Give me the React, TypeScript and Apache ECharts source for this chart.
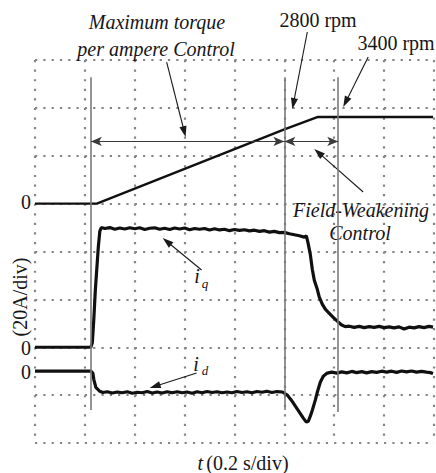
import React, { useEffect, useRef } from "react";
import * as echarts from "echarts";

// time in seconds (0.2 s/div), speed in rpm, currents in A (20 A/div)
const speedTrace: [number, number][] = [
  [0, 0], [0.248, 0], [1.0, 2920], [1.132, 3400], [1.596, 3400],
];

const iqTrace: [number, number][] = [
  [0, 0], [0.224, 0], [0.23, 2], [0.236, 12], [0.242, 24], [0.248, 33], [0.254, 42], [0.26, 48.5], [0.266, 50.0],
  [0.28, 49.6], [0.3, 50.0], [0.32, 49.3], [0.34, 49.8], [0.36, 49.4], [0.38, 49.9], [0.4, 49.5], [0.42, 49.9],
  [0.44, 49.2], [0.46, 49.7], [0.48, 49.9], [0.5, 49.3], [0.52, 49.7], [0.54, 49.2], [0.56, 49.8], [0.58, 49.4],
  [0.6, 49.8], [0.62, 49.1], [0.64, 49.6], [0.66, 49.3], [0.68, 49.6], [0.7, 49.0], [0.72, 49.5], [0.74, 49.0],
  [0.76, 49.3], [0.78, 48.7], [0.8, 49.2], [0.82, 48.8], [0.84, 49.1], [0.86, 48.6], [0.88, 48.9], [0.9, 48.4],
  [0.92, 48.7], [0.94, 48.1], [0.96, 48.4], [0.98, 47.9], [1.0, 48.0], [1.02, 47.4], [1.04, 47.0], [1.06, 46.6],
  [1.08, 46.0], [1.088, 46.5], [1.094, 44.0], [1.104, 38.8], [1.112, 32.6], [1.12, 28.0], [1.132, 24.2],
  [1.14, 20.9], [1.152, 18.0], [1.164, 15.9], [1.18, 14.2], [1.196, 12.5], [1.212, 10.9], [1.228, 9.4],
  [1.244, 8.6], [1.26, 8.8], [1.28, 8.3], [1.3, 8.7], [1.32, 8.2], [1.34, 8.6], [1.36, 8.3], [1.38, 8.7],
  [1.4, 8.2], [1.42, 8.5], [1.44, 8.1], [1.46, 8.5], [1.48, 7.6], [1.5, 8.4], [1.52, 8.1], [1.54, 8.6],
  [1.56, 8.2], [1.58, 8.7], [1.596, 8.4],
];

const idTrace: [number, number][] = [
  [0, 0], [0.224, 0], [0.232, -0.8], [0.236, -3.5], [0.244, -6.8], [0.252, -7.6], [0.26, -8.4], [0.272, -8.9],
  [0.29, -8.6], [0.31, -9.1], [0.33, -8.7], [0.35, -9.0], [0.37, -8.6], [0.39, -9.2], [0.41, -8.8], [0.43, -9.0],
  [0.45, -8.5], [0.47, -9.1], [0.49, -8.7], [0.51, -9.1], [0.53, -8.6], [0.55, -9.0], [0.57, -8.6], [0.59, -9.0],
  [0.61, -8.7], [0.63, -9.2], [0.65, -8.6], [0.67, -9.0], [0.69, -8.5], [0.71, -8.9], [0.73, -8.6], [0.75, -9.0],
  [0.77, -8.7], [0.79, -9.0], [0.81, -8.5], [0.83, -8.9], [0.85, -8.6], [0.87, -9.0], [0.89, -8.5], [0.91, -8.8],
  [0.93, -8.4], [0.95, -8.9], [0.97, -8.5], [0.992, -8.7], [1.012, -10.0], [1.028, -12.1], [1.044, -14.6],
  [1.06, -17.1], [1.076, -19.6], [1.088, -21.3], [1.096, -20.9], [1.104, -18.8], [1.112, -16.3], [1.124, -12.1],
  [1.132, -8.8], [1.144, -4.6], [1.156, -2.1], [1.172, -0.8], [1.19, -0.4], [1.21, -0.8], [1.23, -0.3],
  [1.25, -0.7], [1.27, -0.1], [1.29, -0.6], [1.31, -0.2], [1.33, -0.7], [1.35, -0.2], [1.37, -0.5], [1.39, 0.0],
  [1.41, -0.4], [1.43, 0.0], [1.45, -0.5], [1.47, 0.1], [1.49, -0.3], [1.51, 0.1], [1.53, -0.4], [1.55, -0.1],
  [1.57, -0.4], [1.585, -0.6], [1.596, -1.0],
];

// event times (s): start, MTPA -> field weakening (2800 rpm), 3400 rpm
const eventTimes = [0.224, 1.0, 1.216];

// trace offsets in divisions on screen and scales
const SPEED_ZERO = 5;
const RPM_PER_DIV = 1880;
const IQ_ZERO = 2;
const ID_ZERO = 1.5;
const AMP_PER_DIV = 20;

// annotation pointers [from, to] in (time s, screen divisions)
const pointerCoords: [number, number][][] = [
  [[0.528, 7.958], [0.604, 6.392]],
  [[1.092, 8.585], [1.032, 6.976]],
  [[1.336, 8.063], [1.236, 7.018]],
  [[1.316, 5.243], [1.12, 6.141]],
  [[0.668, 3.614], [0.512, 4.282]],
  [[0.648, 1.462], [0.46, 1.149]],
];

const TEXT = "#161616";
const FAMILY = "Liberation Serif";

export default function App() {
  const ref = useRef<HTMLDivElement>(null);
  useEffect(() => {
    if (!ref.current) return;
    const chart = echarts.init(ref.current, undefined, { renderer: "svg" });

    const speedData = speedTrace.map(([t, v]) => [t, SPEED_ZERO + v / RPM_PER_DIV]);
    const iqData = iqTrace.map(([t, v]) => [t, IQ_ZERO + v / AMP_PER_DIV]);
    const idData = idTrace.map(([t, v]) => [t, ID_ZERO + v / AMP_PER_DIV]);

    const vLines = eventTimes.map((t, i) => [
      { coord: [t, i === 2 ? 0.65 : 0.69] },
      { coord: [t, 7.64] },
    ]);
    const arrowY = 6.3;
    const doubleArrows = [
      [{ coord: [eventTimes[0], arrowY] }, { coord: [eventTimes[1], arrowY] }],
      [{ coord: [eventTimes[1], arrowY] }, { coord: [eventTimes[2], arrowY] }],
    ];

    const traceStyle = (w: number) => ({
      type: "line" as const,
      showSymbol: false,
      symbol: "none",
      silent: true,
      clip: false,
      lineStyle: { color: "#101010", width: w },
    });

    const text = (t: string, x: number, y: number, size = 20, italic = true, extra: any = {}) => ({
      type: "text",
      x,
      y,
      silent: true,
      style: {
        text: t,
        fill: TEXT,
        fontFamily: FAMILY,
        fontSize: size,
        fontStyle: italic ? "italic" : "normal",
        textAlign: "center",
        textVerticalAlign: "middle",
      },
      ...extra,
    });

    const texts: any[] = [
      text("Maximum torque", 157, 22),
      text("per ampere Control", 156, 49),
      text("2800 rpm", 318, 20, 20, false),
      text("3400 rpm", 396, 43, 20, false),
      text("Field-Weakening", 361, 210),
      text("Control", 360, 233),
      text("0", 26, 202, 20, false),
      text("0", 26, 348, 20, false),
      text("0", 26, 372, 20, false),
      text("(20A/div)", 20, 297, 20, false, { rotation: Math.PI / 2 }),
      text("i", 197, 276, 20),
      text("q", 205, 283, 13),
      text("i", 196, 364, 20),
      text("d", 205, 370, 13),
      {
        type: "text",
        x: 243,
        y: 463,
        silent: true,
        style: {
          text: "{t|t} {n|(0.2 s/div)}",
          textAlign: "center",
          textVerticalAlign: "middle",
          rich: {
            t: { fontFamily: FAMILY, fontSize: 20, fontStyle: "italic", fill: TEXT, color: TEXT },
            n: { fontFamily: FAMILY, fontSize: 20, fill: TEXT, color: TEXT },
          },
        },
      },
    ];

    chart.setOption({
      animation: false,
      backgroundColor: "#ffffff",
      grid: { left: 35, right: 2, top: 60, bottom: 30 },
      xAxis: {
        type: "value",
        min: 0,
        max: 1.6,
        interval: 0.2,
        axisLine: { show: false },
        axisTick: { show: false },
        axisLabel: { show: false },
        splitLine: { show: true, lineStyle: { color: "#858585", width: 2.2, type: [2.2, 7.375] } },
      },
      yAxis: {
        type: "value",
        min: 0,
        max: 8,
        interval: 1,
        axisLine: { show: false },
        axisTick: { show: false },
        axisLabel: { show: false },
        splitLine: { show: true, lineStyle: { color: "#858585", width: 2.2, type: [2.2, 6.11] } },
      },
      series: [
        {
          name: "guides",
          type: "line",
          data: [],
          clip: false,
          silent: true,
          markLine: {
            silent: true,
            animation: false,
            symbol: "none",
            label: { show: false },
            lineStyle: { color: "#7a7a7a", width: 1.6, type: "solid" },
            emphasis: { disabled: true },
            data: vLines,
          },
        },
        {
          name: "ranges",
          type: "line",
          data: [],
          clip: false,
          silent: true,
          markLine: {
            silent: true,
            animation: false,
            symbol: ["arrow", "arrow"],
            symbolSize: [7, 11],
            label: { show: false },
            lineStyle: { color: "#3a3a3a", width: 1.2, type: "solid" },
            emphasis: { disabled: true },
            data: doubleArrows,
          },
        },
        { name: "speed", ...traceStyle(2.4), data: speedData },
        { name: "iq", ...traceStyle(3.2), data: iqData },
        { name: "id", ...traceStyle(3.2), data: idData },
      ],
      graphic: texts,
    });

    // annotation pointer arrows, placed through the grid's own coordinate system
    const pointerEls: any[] = [];
    pointerCoords.forEach(([a, b]) => {
      const p0 = chart.convertToPixel({ gridIndex: 0 }, a) as number[];
      const p1 = chart.convertToPixel({ gridIndex: 0 }, b) as number[];
      const dx = p1[0] - p0[0];
      const dy = p1[1] - p0[1];
      const len = Math.hypot(dx, dy);
      const ux = dx / len;
      const uy = dy / len;
      const headL = 11;
      const headW = 3.6;
      const bx = p1[0] - ux * headL;
      const by = p1[1] - uy * headL;
      pointerEls.push({
        type: "line",
        silent: true,
        shape: { x1: p0[0], y1: p0[1], x2: bx + ux * 2, y2: by + uy * 2 },
        style: { stroke: "#1a1a1a", lineWidth: 1.1 },
      });
      pointerEls.push({
        type: "polygon",
        silent: true,
        shape: {
          points: [
            [p1[0], p1[1]],
            [bx - uy * headW, by + ux * headW],
            [bx + uy * headW, by - ux * headW],
          ],
        },
        style: { fill: "#1a1a1a" },
      });
    });
    chart.setOption({ graphic: [...texts, ...pointerEls] }, { replaceMerge: ["graphic"] });

    return () => chart.dispose();
  }, []);
  return (
    <div
      ref={ref}
      style={{ position: "fixed", left: 0, top: 0, width: 436, height: 473, background: "#fff" }}
    />
  );
}
